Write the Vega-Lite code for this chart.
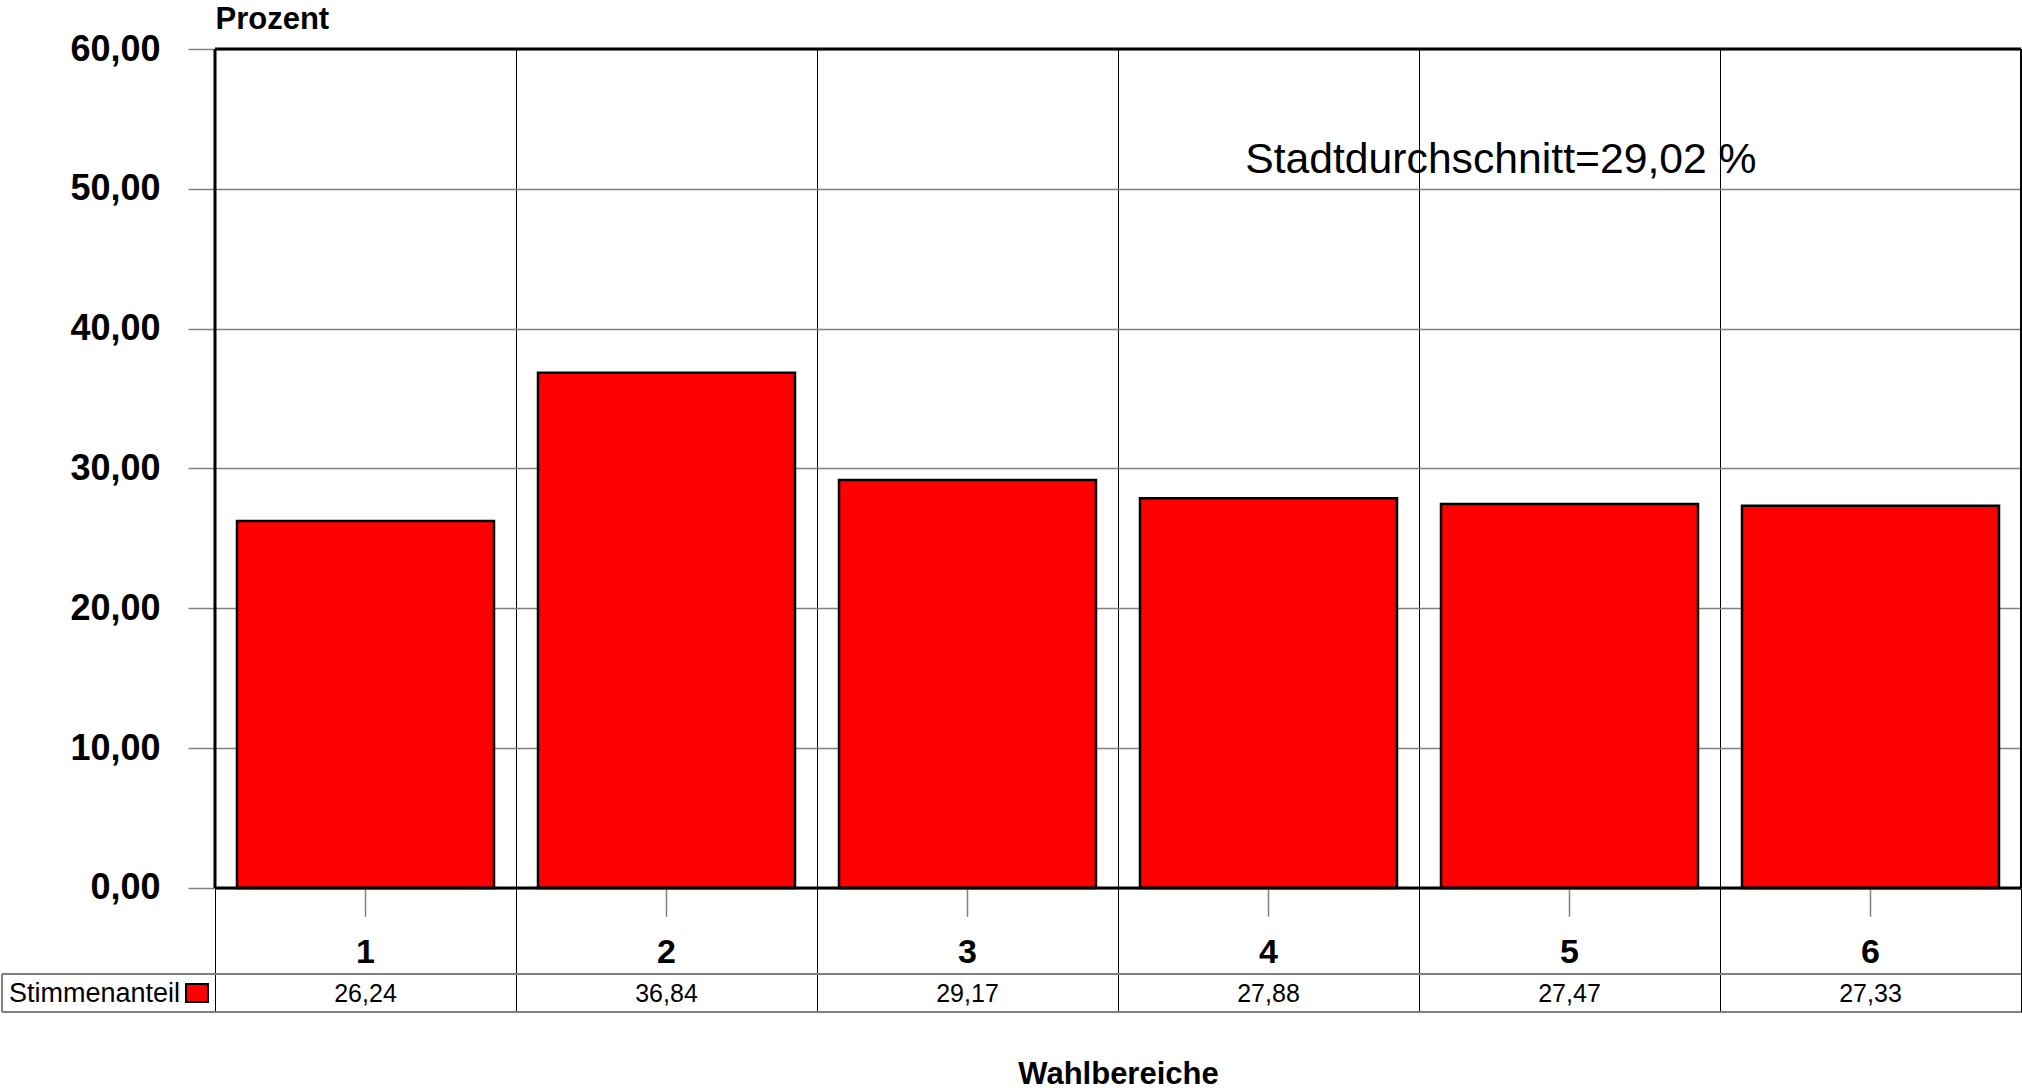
{
  "$schema": "https://vega.github.io/schema/vega-lite/v6.json",
  "autosize": {"type": "none"},
  "padding": {"left": 215, "top": 49, "right": 1, "bottom": 78},
  "width": 1806,
  "height": 963,
  "background": "white",
  "config": {
    "view": {"stroke": null},
    "font": "Liberation Sans",
    "locale": {"number": {"decimal": ",", "thousands": ".", "grouping": [3], "currency": ["", " €"]}}
  },
  "data": {"values": [
    {"Wahlbereich": 1, "Stimmenanteil": 26.24},
    {"Wahlbereich": 2, "Stimmenanteil": 36.84},
    {"Wahlbereich": 3, "Stimmenanteil": 29.17},
    {"Wahlbereich": 4, "Stimmenanteil": 27.88},
    {"Wahlbereich": 5, "Stimmenanteil": 27.47},
    {"Wahlbereich": 6, "Stimmenanteil": 27.33}
  ]},
  "layer": [
    {
      "mark": {"type": "bar", "width": 257, "color": "#FF0000", "stroke": "#000000", "strokeWidth": 2.5},
      "encoding": {
        "x": {
          "field": "Wahlbereich", "type": "quantitative",
          "scale": {"domain": [0.5, 6.5], "nice": false, "zero": false, "padding": 0},
          "axis": {
            "orient": "bottom",
            "values": [0.5, 1.5, 2.5, 3.5, 4.5, 5.5, 6.5],
            "grid": true, "gridColor": "#000000", "gridWidth": 1, "gridOpacity": 1,
            "labels": false, "ticks": false, "domain": false,
            "title": "Wahlbereiche", "titleFontSize": 31, "titleFontWeight": "bold",
            "titleColor": "#000000", "titlePadding": 47
          }
        },
        "y": {
          "field": "Stimmenanteil", "type": "quantitative",
          "scale": {"domain": [-8.868, 60], "nice": false, "zero": false, "padding": 0},
          "axis": {
            "values": [0, 10, 20, 30, 40, 50, 60],
            "format": ".2f",
            "grid": true, "gridColor": "#808080", "gridWidth": 1.5, "gridOpacity": 1,
            "domain": false,
            "tickSize": 27, "tickColor": "#808080", "tickWidth": 1.5,
            "labelPadding": 28, "labelFontSize": 36, "labelFontWeight": "bold", "labelColor": "#000000",
            "title": "Prozent", "titleAngle": 0, "titleAlign": "left", "titleBaseline": "alphabetic",
            "titleX": 0, "titleY": -21, "titleFontSize": 31, "titleFontWeight": "bold", "titleColor": "#000000"
          }
        }
      }
    },
    {
      "mark": {"type": "rule", "color": "#808080", "strokeWidth": 1.5},
      "encoding": {
        "x": {"field": "Wahlbereich", "type": "quantitative"},
        "y": {"datum": 0},
        "y2": {"datum": -2.06}
      }
    },
    {
      "mark": {"type": "text", "fontSize": 34, "fontWeight": "bold", "color": "#000000", "baseline": "middle"},
      "encoding": {
        "x": {"field": "Wahlbereich", "type": "quantitative"},
        "y": {"datum": -4.65},
        "text": {"field": "Wahlbereich", "type": "quantitative"}
      }
    },
    {
      "mark": {"type": "text", "fontSize": 25, "color": "#000000", "baseline": "middle"},
      "encoding": {
        "x": {"field": "Wahlbereich", "type": "quantitative"},
        "y": {"datum": -7.55},
        "text": {"field": "Stimmenanteil", "type": "quantitative", "format": ".2f"}
      }
    },
    {
      "data": {"values": [{}]},
      "layer": [
        {"mark": {"type": "rule", "color": "#000000", "strokeWidth": 3},
         "encoding": {"x": {"datum": 0.5}, "x2": {"datum": 6.5}, "y": {"datum": 60}}},
        {"mark": {"type": "rule", "color": "#000000", "strokeWidth": 3},
         "encoding": {"x": {"datum": 0.5}, "x2": {"datum": 6.5}, "y": {"datum": 0}}},
        {"mark": {"type": "rule", "color": "#000000", "strokeWidth": 3},
         "encoding": {"x": {"datum": 0.5}, "y": {"datum": 0}, "y2": {"datum": 60}}},
        {"mark": {"type": "rule", "color": "#000000", "strokeWidth": 2},
         "encoding": {"x": {"datum": 6.5}, "y": {"datum": 0}, "y2": {"datum": 60}}},
        {"mark": {"type": "rule", "color": "#808080", "strokeWidth": 2},
         "encoding": {"x": {"datum": -0.2076}, "x2": {"datum": 6.5}, "y": {"datum": -6.15}}},
        {"mark": {"type": "rule", "color": "#808080", "strokeWidth": 2},
         "encoding": {"x": {"datum": -0.2076}, "x2": {"datum": 6.5}, "y": {"datum": -8.868}}},
        {"mark": {"type": "rule", "color": "#808080", "strokeWidth": 2},
         "encoding": {"x": {"datum": -0.2076}, "y": {"datum": -6.15}, "y2": {"datum": -8.868}}},
        {"mark": {"type": "rect", "color": "#FF0000", "stroke": "#000000", "strokeWidth": 2},
         "encoding": {"x": {"datum": 0.4037}, "x2": {"datum": 0.4767}, "y": {"datum": -6.865}, "y2": {"datum": -8.153}}},
        {"mark": {"type": "text", "text": "Stimmenanteil", "fontSize": 27, "align": "left", "baseline": "middle", "color": "#000000"},
         "encoding": {"x": {"datum": -0.1844}, "y": {"datum": -7.55}}},
        {"mark": {"type": "text", "text": "Stadtdurchschnitt=29,02 %", "fontSize": 42.7, "align": "center", "baseline": "middle", "color": "#000000"},
         "encoding": {"x": {"datum": 4.772}, "y": {"datum": 52.06}}}
      ]
    }
  ]
}
